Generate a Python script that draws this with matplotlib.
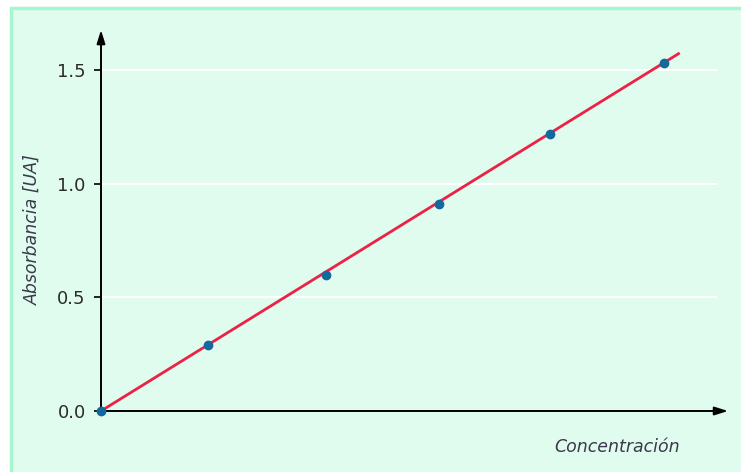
import matplotlib
matplotlib.use("Agg")
import matplotlib.pyplot as plt
from matplotlib.patches import Rectangle

# Datos de la curva de calibración
concentracion = [0, 0.95, 1.99, 2.99, 3.97, 4.98]
absorbancia = [0.0, 0.29, 0.60, 0.91, 1.22, 1.53]
recta_x = [0, 5.12]
recta_y = [0, 1.575]
yticks = [0.0, 0.5, 1.0, 1.5]
ytick_labels = ["0.0", "0.5", "1.0", "1.5"]

fondo = "#e0fcee"
borde = "#a8f5d2"
fuente = ["Liberation Sans Narrow", "DejaVu Sans Condensed", "DejaVu Sans"]

fig = plt.figure(figsize=(7.41, 4.72), dpi=100)
fig.patch.set_facecolor("white")

# recuadro de fondo verde claro
W, H = 741, 472
fig.patches.append(Rectangle((11 / W, -0.1), 1.2, (H - 8) / H + 0.1,
                             transform=fig.transFigure, facecolor=fondo,
                             edgecolor=borde, linewidth=2.5, zorder=-5))

ax = fig.add_axes([101 / W, 61 / H, 616 / W, 381 / H])
ax.set_zorder(2)
ax.set_facecolor("none")
ax.set_xlim(0, 5.45)
ax.set_ylim(0, 1.676)

for s in ax.spines.values():
    s.set_visible(False)

# líneas de guía blancas
for y in yticks[1:]:
    ax.axhline(y, color="white", lw=1.5, zorder=1)

ax.plot(recta_x, recta_y, color="#ec2145", lw=2, zorder=3, clip_on=False,
        solid_capstyle="butt")
ax.plot(concentracion, absorbancia, "o", color="#13689e", ms=6, zorder=4,
        clip_on=False)

# ejes con flecha
flecha = dict(arrowstyle="-|>,head_length=0.8,head_width=0.25", color="black",
              lw=1.4, shrinkA=0, shrinkB=0)
ax.annotate("", xy=(1.018, 0), xytext=(0, 0), xycoords="axes fraction",
            arrowprops=flecha, annotation_clip=False)
ax.annotate("", xy=(0, 1.0), xytext=(0, 0), xycoords="axes fraction",
            arrowprops=flecha, annotation_clip=False)

ax.set_xticks([])
ax.set_yticks(yticks)
ax.set_yticklabels(ytick_labels, family=fuente, fontsize=13, color="#2b2b2b")
ax.tick_params(axis="y", direction="out", length=5, width=1.2, color="black", pad=6)

fig.text(33 / W, 1 - 230 / H, "Absorbancia [UA]", rotation=90, ha="center",
         va="center", style="italic", family=fuente, fontsize=12.5, color="#3a3a4a")
fig.text(680 / W, 1 - 447 / H, "Concentración", ha="right", va="center",
         style="italic", family=fuente, fontsize=12.5, color="#3a3a4a")

fig.savefig("out.png", dpi=100, facecolor=fig.get_facecolor())
